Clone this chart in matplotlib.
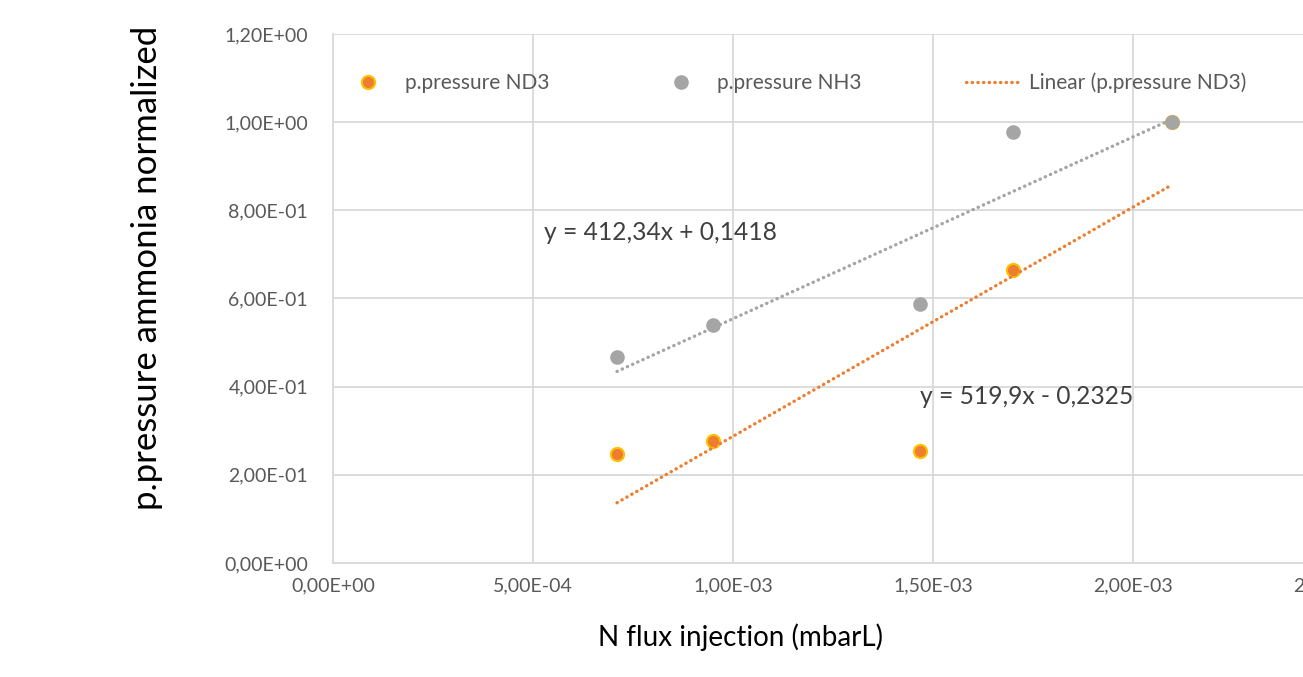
import numpy as np
import matplotlib
matplotlib.use("Agg")
import matplotlib.pyplot as plt
from matplotlib.ticker import FuncFormatter, MultipleLocator

plt.rcParams['font.family'] = ['Lato', 'DejaVu Sans']

# data
flux = [7.10e-4, 9.50e-4, 1.4675e-3, 1.70e-3, 2.0975e-3]
p_nd3 = [0.248, 0.277, 0.254, 0.665, 1.000]
p_nh3 = [0.467, 0.540, 0.588, 0.978, 1.000]

# trendline coefficients (slope, intercept) as printed on the chart
fit_nd3 = (519.9, -0.2325)
fit_nh3 = (412.34, 0.1418)
eq_nd3 = "y = 519,9x - 0,2325"
eq_nh3 = "y = 412,34x + 0,1418"

ORANGE = '#ED7D31'
GOLD = '#FFC000'
GREY = '#A5A5A5'
GRID = '#D9D9D9'
TXT = '#595959'


def sci_comma(v, pos):
    return f"{v:.2E}".replace('.', ',')


fig = plt.figure(figsize=(13.03, 6.77), dpi=100)
ax = fig.add_axes([333 / 1303, 114 / 677, 1000 / 1303, 529 / 677])

ax.set_xlim(0, 2.5e-3)
ax.set_ylim(0, 1.2)
ax.xaxis.set_major_locator(MultipleLocator(5e-4))
ax.yaxis.set_major_locator(MultipleLocator(0.2))
ax.xaxis.set_major_formatter(FuncFormatter(sci_comma))
ax.yaxis.set_major_formatter(FuncFormatter(sci_comma))

ax.grid(True, color=GRID, linewidth=1.3, zorder=0)
ax.set_axisbelow(True)
for side in ['top', 'right']:
    ax.spines[side].set_visible(False)
for side in ['left', 'bottom']:
    ax.spines[side].set_color(GRID)
    ax.spines[side].set_linewidth(1.3)
ax.tick_params(length=0, labelsize=14, labelcolor=TXT)
ax.tick_params(axis='y', pad=18)
ax.tick_params(axis='x', pad=10)

# points
ax.plot(flux, p_nd3, 'o', ms=9.5, mfc=ORANGE, mec=GOLD, mew=1.5,
        label='p.pressure ND3', zorder=3)
ax.plot(flux, p_nh3, 'o', ms=9.5, mfc=GREY, mec=GREY, mew=1.0,
        label='p.pressure NH3', zorder=4)

# linear trendlines over the data range
dots = (0, (0.1, 1.6))
xs = np.array([min(flux), max(flux)])
ax.plot(xs, fit_nd3[0] * xs + fit_nd3[1], color=ORANGE, lw=2.4,
        linestyle=dots, dash_capstyle='round',
        label='Linear (p.pressure ND3)', zorder=5)
ax.plot(xs, fit_nh3[0] * xs + fit_nh3[1], color=GREY, lw=2.4,
        linestyle=dots, dash_capstyle='round', zorder=5)

ax.text(5.275e-4, 0.749, eq_nh3, fontsize=17.7, color='#404040', va='center')
ax.text(1.4675e-3, 0.377, eq_nd3, fontsize=17.7, color='#404040', va='center')

leg = ax.legend(ncol=3, loc='center left', bbox_to_anchor=(0.0, 0.907),
                frameon=False, fontsize=15, handlelength=2.6,
                handletextpad=0.45, columnspacing=5.0, borderaxespad=0)
for t in leg.get_texts():
    t.set_color(TXT)

ax.set_xlabel('N flux injection (mbarL)', fontsize=20, color='black')
ax.xaxis.set_label_coords(0.407, -0.115)
ax.set_ylabel('p.pressure ammonia normalized', fontsize=25, color='black')
ax.yaxis.set_label_coords(-0.17, 0.558)

fig.savefig('out.png', dpi=100)
